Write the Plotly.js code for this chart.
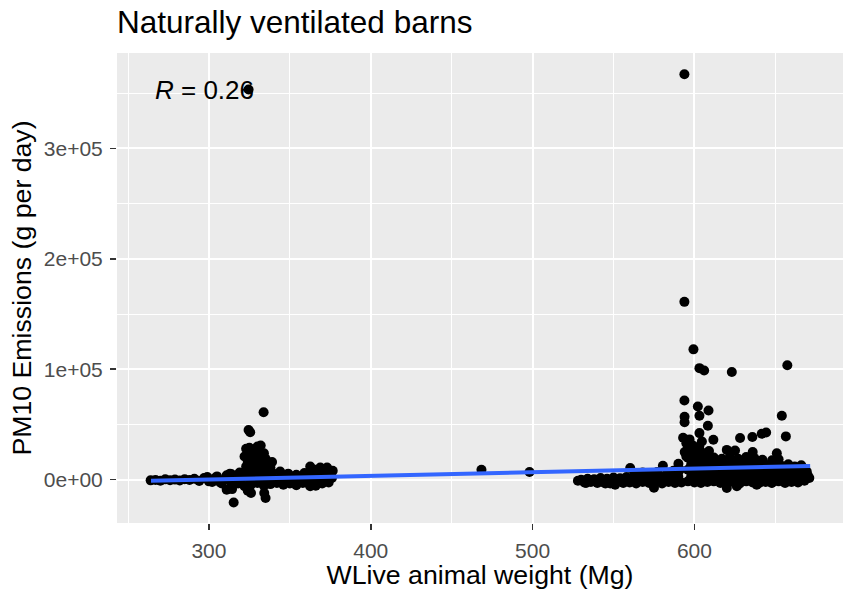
<!DOCTYPE html>
<html>
<head>
<meta charset="utf-8">
<script src="https://cdn.plot.ly/plotly-3.0.1.min.js"></script>
<style>html,body{margin:0;padding:0;background:#fff;}#chart{width:845px;height:590px;}</style>
</head>
<body>
<div id="chart"></div>
<script>
// ---- Data (live animal weight in Mg, PM10 emissions in g per day) ----
// small herds, thin band
const thinRowWeight = [264,267,270,273,276,279,282,285,288,291,294,297];
const thinRowPM10   = [-600,-200,-900,300,-500,100,-700,400,-300,800,-1200,1500];
const transWeight = [299,302,305,308,311,300,304,307,310,313];
const transPM10   = [2500,-2000,3000,-3500,4000,-1500,1800,-2500,500,5500];
const lowBottomWeight = [314,318,322,326,330,334,338,342,346,350,354,358,362,366,370,374];
const lowBottomPM10   = [-5000,-3500,-6000,-4500,-3000,-5500,-4000,-3000,-4500,-3500,-5000,-3000,-4000,-5500,-3500,-2500];
const lowMidWeight = [312,316,320,324,328,332,336,340,344,348,352,356,360,364,368,372,376];
const lowMidPM10   = [1000,1500,500,2000,1000,1500,500,1200,800,1500,300,1000,1800,600,1400,1000,1500];
const lowTopWeight = [314,319,324,329,334,339,344,349,354,359,364,369,374];
const lowTopPM10   = [5000,6500,7000,6000,8000,6500,7500,5500,4500,6000,7000,5000,6500];
const lowColWeight = [323,325,327,323,325,327,324,326,325,329,331,333,330,332,334,335,337,339,328,330,333,336,338,324,326,328,322,327,331];
const lowColPM10   = [12000,18000,24000,28000,20000,14000,10000,26000,29000,22000,18000,13000,30000,31000,24000,19000,14000,16000,9000,11000,10000,8000,11000,16000,22000,19000,21000,27000,25000];
const lowOutWeight = [333.8,324.5,325.5,315.3,311,314.3,334.2,335,324,326,362.6,362.6,368.8,373,366,376.5];
const lowOutPM10   = [61000,45000,43000,-20600,-9000,-8500,-12000,-16600,-10000,-12000,-6000,12000,11000,11000,9000,8000];
// isolated middle values
const midWeight = [468.4,498.1];
const midPM10   = [9000,7000];
// large herds
const hiBandAWeight = [528,532,536,540,544,548,552,556,560,564,568,572,576,580,584,588,592];
const hiBandAPM10   = [-1000,-2500,-2000,-3000,-2500,-3500,-2000,-3000,-2500,-3500,-2000,-3000,-2500,-3500,-2000,-3000,-2500];
const hiBandBWeight = [530,534,538,542,546,550,554,558,562,566,570,574,578,582,586,590];
const hiBandBPM10   = [0,800,500,1500,800,2000,1200,2500,1500,3000,2000,2500,3500,2500,4000,3000];
const hiExtraWeight = [560.3,580.5,590.1,563,568,572,577,583,587,591,551,575,545,533];
const hiExtraPM10   = [10600,12700,14500,5500,6500,5000,7000,6000,8000,9000,-4500,-7300,-3500,-3000];
const hiRow1Weight = [596,600,604,608,612,616,620,624,628,632,636,640,644,648,652,656,660,664,668,671];
const hiRow1PM10   = [-1500,-2500,-3000,-2000,-1500,-3000,-2500,-2000,-3500,-1500,-2500,-3000,-2000,-2500,-1500,-3000,-2000,-2500,-1000,1500];
const hiRow2Weight = [598,602,606,610,614,618,622,626,630,634,638,642,646,650,654,658,662,666,670];
const hiRow2PM10   = [3000,4000,3500,2500,4500,3000,4000,3500,2500,4500,3000,4000,3500,2500,4500,3000,4000,5000,4000];
const hiRow3Weight = [596,600,604,608,612,616,620,624,628,632,636,640,644,648,652,656,660,664,668];
const hiRow3PM10   = [9000,10000,8500,9500,8000,9000,10000,8500,9500,8000,9000,10000,8500,9500,8000,9000,9500,8500,10000];
const hiRow4Weight = [598,602,606,610,614,618,622,626,630,634,638,642,646,650,654,658,662,666];
const hiRow4PM10   = [14000,15000,14500,16000,13500,15000,14000,16000,13500,15000,14500,14000,13000,15000,12500,14000,12000,13000];
const hiRow5Weight = [596,600,604,608,612,617,622,627,632,637,642,648,652];
const hiRow5PM10   = [20000,21000,19500,22000,20000,19000,21000,19000,20500,19500,18000,17500,18500];
const hiColWeight = [594,596,598,601,604,607,595,599,603,593,597,595,600,605,609];
const hiColPM10   = [25000,29000,26000,27000,25000,24000,33000,31000,30000,38000,36500,21000,24000,22000,26000];
const hiOutWeight = [593.8,599.4,603.1,606,623.1,657.4,593.8,602.1,608.7,603.1,593.9,593.9,608.3,603.1,604.6,611.7,654,656.5,628.2,635.8,641.6,644.3,620,625.1,636,650.9,620,626.2,638.5,647.8,669.4,661.1];
const hiOutPM10   = [161000,118000,101000,98800,97500,103600,71700,66300,62700,57900,57000,52000,48800,42200,34600,36200,57900,39200,37700,38600,41600,42800,27000,26500,25000,24000,-7500,-6000,-4500,-3000,7500,0];
// extreme values
const extremeWeight = [593.8,324.5];
const extremePM10   = [367000,353300];
// linear fit (geom_smooth, method lm)
const fitWeight = [264.2,671.5];
const fitPM10   = [-1000,12500];
const corrLabel = 'R = 0.26';
// axes
const xTickVals = [300,400,500,600];
const xMinorVals = [250,350,450,550,650];
const yTickVals = [0,100000,200000,300000];
const yTickText = ['0e+00','1e+05','2e+05','3e+05'];
const yMinorVals = [50000,150000,250000,350000];

const groupsW = [thinRowWeight,transWeight,lowBottomWeight,lowMidWeight,lowTopWeight,lowColWeight,lowOutWeight,midWeight,
  hiBandAWeight,hiBandBWeight,hiExtraWeight,hiRow1Weight,hiRow2Weight,hiRow3Weight,hiRow4Weight,hiRow5Weight,hiColWeight,hiOutWeight,extremeWeight];
const groupsP = [thinRowPM10,transPM10,lowBottomPM10,lowMidPM10,lowTopPM10,lowColPM10,lowOutPM10,midPM10,
  hiBandAPM10,hiBandBPM10,hiExtraPM10,hiRow1PM10,hiRow2PM10,hiRow3PM10,hiRow4PM10,hiRow5PM10,hiColPM10,hiOutPM10,extremePM10];
const allW = [].concat(...groupsW);
const allP = [].concat(...groupsP);

const FONT = 'Liberation Sans, Arial, Helvetica, sans-serif';

const traces = [
  {type:'scatter', mode:'markers', x: allW, y: allP,
   marker:{color:'black', size:10, line:{width:0}}, hoverinfo:'skip', showlegend:false},
  {type:'scatter', mode:'lines', x: fitWeight, y: fitPM10,
   line:{color:'#3366FF', width:4}, hoverinfo:'skip', showlegend:false}
];

const axisCommon = {
  showgrid:true, gridcolor:'#FFFFFF', gridwidth:2,
  zeroline:false, showline:false,
  ticks:'outside', ticklen:6, tickwidth:1.5, tickcolor:'#333333',
  tickfont:{family:FONT, size:21, color:'#4D4D4D'},
  ticklabelstandoff:3,
  automargin:false
};

const layout = {
  width:845, height:590,
  margin:{l:117, r:2, t:53, b:67},
  paper_bgcolor:'#FFFFFF', plot_bgcolor:'#EBEBEB',
  font:{family:FONT, color:'#000000'},
  title:{text:'Naturally ventilated barns', font:{family:FONT, size:31.5, color:'#000000'},
         xref:'container', x:117/845, xanchor:'left', yref:'container', y:1-22/590, yanchor:'middle'},
  xaxis: Object.assign({}, axisCommon, {
    range:[243.2,691.8], tickmode:'array', tickvals:xTickVals,
    minor:{tickmode:'array', tickvals:xMinorVals, showgrid:true, gridcolor:'#FFFFFF', gridwidth:1, ticks:''},
    title:{text:'WLive animal weight (Mg)', font:{family:FONT, size:26.7, color:'#000000'}, standoff:3}
  }),
  yaxis: Object.assign({}, axisCommon, {
    range:[-39200,386300], tickmode:'array', tickvals:yTickVals, ticktext:yTickText,
    minor:{tickmode:'array', tickvals:yMinorVals, showgrid:true, gridcolor:'#FFFFFF', gridwidth:1, ticks:''},
    title:{text:'PM10 Emissions (g per day)', font:{family:FONT, size:26.7, color:'#000000'}, standoff:4}
  }),
  annotations:[{
    xref:'x', yref:'y', x:265.7, y:353000, xanchor:'left', yanchor:'middle',
    text:'<i>R</i>' + corrLabel.slice(1), showarrow:false,
    font:{family:FONT, size:26, color:'#000000'}
  }]
};

Plotly.newPlot('chart', traces, layout, {staticPlot:true, displayModeBar:false});
</script>
</body>
</html>
